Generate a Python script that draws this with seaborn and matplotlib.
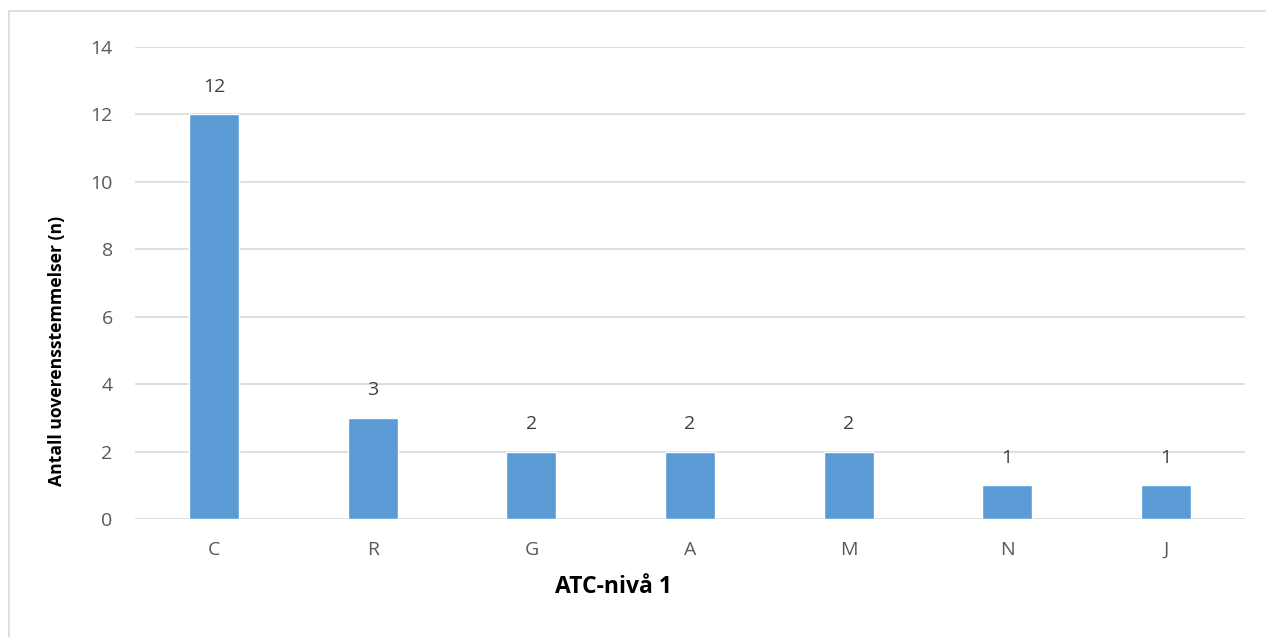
import matplotlib
matplotlib.use("Agg")
import matplotlib.pyplot as plt
from matplotlib.lines import Line2D
import seaborn as sns
import pandas as pd

categories = ["C", "R", "G", "A", "M", "N", "J"]
counts = [12, 3, 2, 2, 2, 1, 1]
y_ticks = [0, 2, 4, 6, 8, 10, 12, 14]

df = pd.DataFrame({"kategori": categories, "antall": counts})

sns.set_theme(style="white")
plt.rcParams["font.family"] = ["Open Sans", "DejaVu Sans"]

fig = plt.figure(figsize=(12.66, 6.37), dpi=100)
ax = fig.add_axes([0.1066, 0.1852, 0.8768, 0.7410])

sns.barplot(data=df, x="kategori", y="antall", color="#5B9BD5",
            width=0.315, saturation=1, ax=ax, zorder=3)

ax.set_ylim(0, 14)
ax.set_xlim(-0.5, len(categories) - 0.5)
ax.set_yticks(y_ticks)
ax.yaxis.grid(True, color="#D9D9D9", linewidth=1.2, zorder=0)
ax.xaxis.grid(False)
for s in ax.spines.values():
    s.set_visible(False)
ax.tick_params(axis="both", length=0, labelsize=14, labelcolor="#595959")
ax.tick_params(axis="x", pad=16)
ax.tick_params(axis="y", pad=16)

for i, v in enumerate(counts):
    ax.annotate(str(v), (i, v), xytext=(0, 20), textcoords="offset points",
                ha="center", va="center", fontsize=14, color="#404040")

ax.set_xlabel("ATC-nivå 1", fontsize=16.5, fontweight="bold", color="black",
              va="center")
ax.xaxis.set_label_coords(0.4315, -0.144)
ax.set_ylabel("Antall uoverensstemmelser (n)", fontsize=12.6, fontweight="bold",
              color="black", va="center")
ax.yaxis.set_label_coords(-0.0703, 0.357)

# chart-area frame (top and left edges)
W, H = 1266, 637
fig.add_artist(Line2D([9 / W, 1], [1 - 11 / H, 1 - 11 / H], color="#D9D9D9", lw=1.2))
fig.add_artist(Line2D([9 / W, 9 / W], [0, 1 - 11 / H], color="#D9D9D9", lw=1.2))

fig.savefig("out.png", dpi=100)
